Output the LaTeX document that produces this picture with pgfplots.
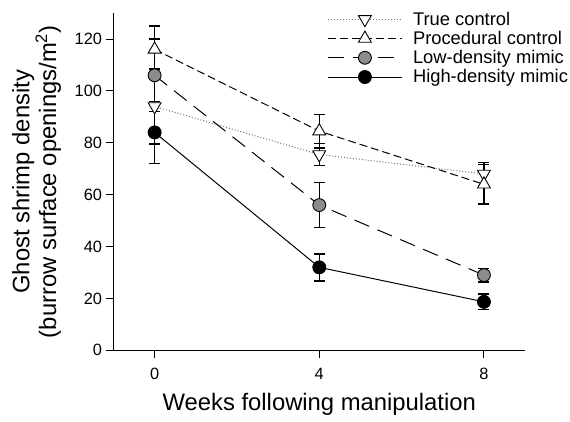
\documentclass[border=0pt]{standalone}
\usepackage{pgfplots}
\pgfplotsset{compat=1.18}
\usepackage{fontspec}
\setmainfont{Liberation Sans}
\definecolor{mgray}{HTML}{8C8C8C}
\begin{document}
\begin{tikzpicture}
\begin{axis}[
  scale only axis,
  width=415pt, height=340pt,
  xmin=-1, xmax=9, ymin=0, ymax=130,
  axis lines=left,
  axis line style={-, line width=1pt},
  xtick={0,4,8}, ytick={0,20,...,120},
  tick align=outside,
  major tick length=8pt,
  tick style={line width=1pt, black},
  /pgf/number format/assume math mode=true,
  ticklabel style={font=\fontsize{16.5}{18}\selectfont},
  xticklabel style={yshift=-6pt},
  xlabel={Weeks following manipulation},
  ylabel={Ghost shrimp density\\(burrow surface openings/m\textsuperscript{2})},
  label style={font=\fontsize{24}{23}\selectfont},
  ylabel style={align=center},
  ylabel shift=7pt,
  xlabel shift=7pt,
  legend style={at={(rel axis cs:0.52,1.01)}, anchor=north west, draw=none, fill=none,
     font=\fontsize{18.5}{19}\selectfont, row sep=0.5pt, inner sep=0pt,
     /tikz/every odd column/.append style={column sep=9pt}},
  legend cell align=left,
  legend image code/.code={\draw[mark repeat=2,mark phase=2,#1] plot coordinates {(0pt,0pt) (37pt,0pt) (74pt,0pt)};},
  error bars/y dir=both, error bars/y explicit,
  error bars/error bar style={line width=1.4pt, black, solid},
  error bars/error mark options={rotate=90, mark size=5.5pt, line width=1.4pt, black, solid},
]
\addplot[color=black!55, dotted, line width=1pt, mark=triangle*, mark size=7.5pt, mark options={solid, draw=black, fill=white, rotate=180, line width=0.9pt}]
  coordinates {(0,94) +- (0,14.5) (4,75.5) +- (0,4.3) (8,68) +- (0,4.5)};
\addlegendentry{True control}
\addplot[color=black, dash pattern=on 8pt off 4pt, line width=1pt, mark=triangle*, mark size=7.5pt, mark options={solid, draw=black, fill=white, line width=0.9pt}]
  coordinates {(0,116) +- (0,9) (4,84.5) +- (0,6.5) (8,64) +- (0,7.6)};
\addlegendentry{Procedural control}
\addplot[color=black, dash pattern=on 16pt off 9pt, line width=1pt, mark=*, mark size=6.5pt, mark options={solid, draw=black, fill=mgray, line width=0.9pt}]
  coordinates {(0,106) +- (0,14) (4,56) +- (0,8.7) (8,29) +- (0,2.6)};
\addlegendentry{Low-density mimic}
\addplot[color=black, solid, line width=1pt, mark=*, mark size=6.5pt, mark options={solid, draw=black, fill=black}]
  coordinates {(0,84) +- (0,12) (4,32) +- (0,5.2) (8,18.7) +- (0,3)};
\addlegendentry{High-density mimic}
\end{axis}
\path ([xshift=-9pt]current bounding box.west) ([yshift=10pt]current bounding box.north) ([yshift=-3pt]current bounding box.south);
\end{tikzpicture}
\end{document}
